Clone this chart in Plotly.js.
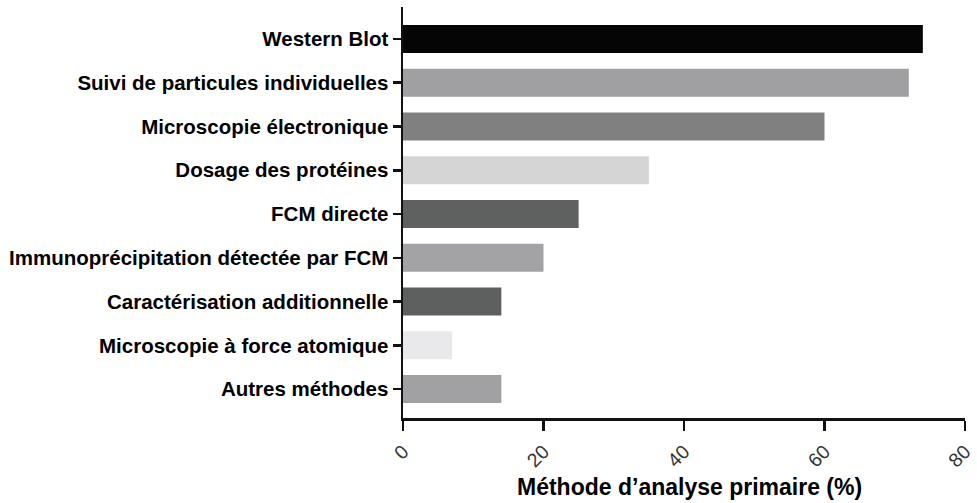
<!DOCTYPE html>
<html>
<head>
<meta charset="utf-8">
<script src="https://cdn.plot.ly/plotly-3.0.1.min.js"></script>
<style>html,body{margin:0;padding:0;background:#fff;}#chart{width:977px;height:503px;}</style>
</head>
<body>
<div id="chart"></div>
<script>
const categories = [
  "Western Blot",
  "Suivi de particules individuelles",
  "Microscopie électronique",
  "Dosage des protéines",
  "FCM directe",
  "Immunoprécipitation détectée par FCM",
  "Caractérisation additionnelle",
  "Microscopie à force atomique",
  "Autres méthodes"
];
const values = [74, 72, 60, 35, 25, 20, 14, 7, 14];
const colors = ["#050505", "#a0a0a3", "#808080", "#d5d5d5", "#5f6060", "#a3a3a5", "#5e5f5f", "#e9e9eb", "#a1a1a3"];
const xTicks = [0, 20, 40, 60, 80];
const xTitle = "Méthode d’analyse primaire (%)";

const trace = {
  type: "bar",
  orientation: "h",
  y: categories,
  x: values,
  width: 0.64,
  marker: { color: colors, line: { width: 0 } },
  hoverinfo: "x+y"
};

const layout = {
  width: 977,
  height: 503,
  margin: { l: 403, r: 12, t: 7, b: 85 },
  paper_bgcolor: "#fff",
  plot_bgcolor: "#fff",
  showlegend: false,
  font: { family: "Liberation Sans, Arial, sans-serif", color: "#000" },
  xaxis: {
    range: [0, 80],
    tickvals: xTicks,
    ticktext: xTicks.map(String),
    tickangle: -45,
    ticks: "outside",
    ticklen: 10,
    tickwidth: 2.5,
    tickcolor: "#111",
    showline: true,
    linewidth: 2.5,
    linecolor: "#111",
    showgrid: false,
    zeroline: false,
    automargin: false,
    ticklabeloverflow: "allow",
    ticklabelstandoff: 2,
    ticklabelshift: 0,
    tickfont: { size: 19.5, color: "#333" }
  },
  yaxis: {
    type: "category",
    range: [8.66, -0.73],
    ticks: "outside",
    ticklen: 8,
    tickwidth: 2.5,
    tickcolor: "#111",
    showline: true,
    linewidth: 2.5,
    linecolor: "#111",
    showgrid: false,
    zeroline: false,
    automargin: false,
    tickfont: { size: 20.5, weight: 700, color: "#000" }
  },
  annotations: [{
    text: xTitle,
    xref: "paper", yref: "paper",
    x: 0.51, y: 0,
    xanchor: "center", yanchor: "middle",
    yshift: -69,
    showarrow: false,
    font: { size: 23, weight: 700, color: "#000", family: "Liberation Sans, Arial, sans-serif" }
  }]
};

Plotly.newPlot("chart", [trace], layout, { displayModeBar: false, staticPlot: true });
</script>
</body>
</html>
